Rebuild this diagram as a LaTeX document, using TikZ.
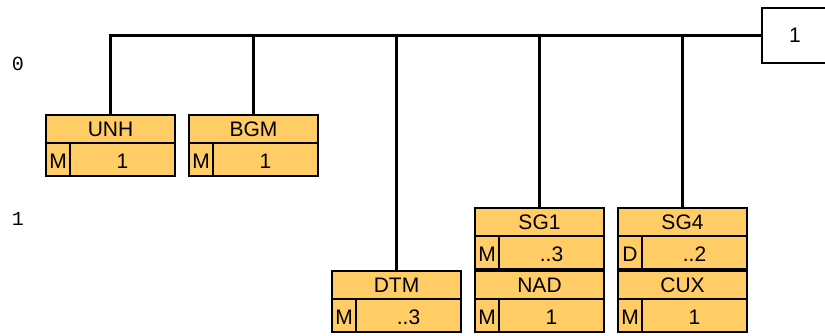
\documentclass[tikz,border=0pt]{standalone}
\usepackage{fontspec}
\setmainfont{Liberation Sans}
\setmonofont{Liberation Mono}
\usepackage{tikz}

\definecolor{segfill}{RGB}{255,204,102}
\newcommand\segfont{\fontsize{21}{25}\selectfont}
\newcommand\lvlfont{\ttfamily\fontsize{20}{24}\selectfont}

\begin{document}
\begin{tikzpicture}[x=1pt,y=-1pt,
    namecell/.style={draw,line width=2pt,fill=segfill,minimum width=129pt,minimum height=28pt,anchor=north west,inner sep=0pt,outer sep=0pt,font=\segfont},
    stcell/.style={draw,line width=2pt,fill=segfill,minimum width=24pt,minimum height=33pt,anchor=north west,inner sep=0pt,outer sep=0pt,font=\segfont,text height=18pt,text depth=-3pt},
    cntcell/.style={stcell,minimum width=105pt},
    msgbox/.style={draw,line width=2pt,minimum width=66pt,minimum height=55pt,inner sep=0pt,font=\segfont},
    lvl/.style={font=\lvlfont,inner sep=0pt},
    link/.style={line width=2.5pt}]
    \useasboundingbox (0,0) rectangle (825,336);

    \node[lvl] (lvl0) at (18,64) {0};
    \node[lvl] (lvl1) at (18,219) {1};

    \node[msgbox] (msg) at (795,35.5) {1};

    \node[namecell] (unh) at (46,115) {UNH};
    \node[stcell] (unhst) at (46,143) {M};
    \node[cntcell] (unhcnt) at (70,143) {1};

    \node[namecell] (bgm) at (189,115) {BGM};
    \node[stcell] (bgmst) at (189,143) {M};
    \node[cntcell] (bgmcnt) at (213,143) {1};

    \node[namecell] (dtm) at (332,271) {DTM};
    \node[stcell] (dtmst) at (332,299) {M};
    \node[cntcell] (dtmcnt) at (356,299) {..3};

    \node[namecell] (sg1) at (475,208) {SG1};
    \node[stcell] (sg1st) at (475,236) {M};
    \node[cntcell] (sg1cnt) at (499,236) {..3};
    \node[namecell] (nad) at (475,271) {NAD};
    \node[stcell] (nadst) at (475,299) {M};
    \node[cntcell] (nadcnt) at (499,299) {1};

    \node[namecell] (sg4) at (618,208) {SG4};
    \node[stcell] (sg4st) at (618,236) {D};
    \node[cntcell] (sg4cnt) at (642,236) {..2};
    \node[namecell] (cux) at (618,271) {CUX};
    \node[stcell] (cuxst) at (618,299) {M};
    \node[cntcell] (cuxcnt) at (642,299) {1};

    \draw[link] (unh.north) |- (msg.west);
    \draw[link] (bgm.north) -- (bgm.north |- msg.west);
    \draw[link] (dtm.north) -- (dtm.north |- msg.west);
    \draw[link] (sg1.north) -- (sg1.north |- msg.west);
    \draw[link] (sg4.north) -- (sg4.north |- msg.west);
\end{tikzpicture}
\end{document}
